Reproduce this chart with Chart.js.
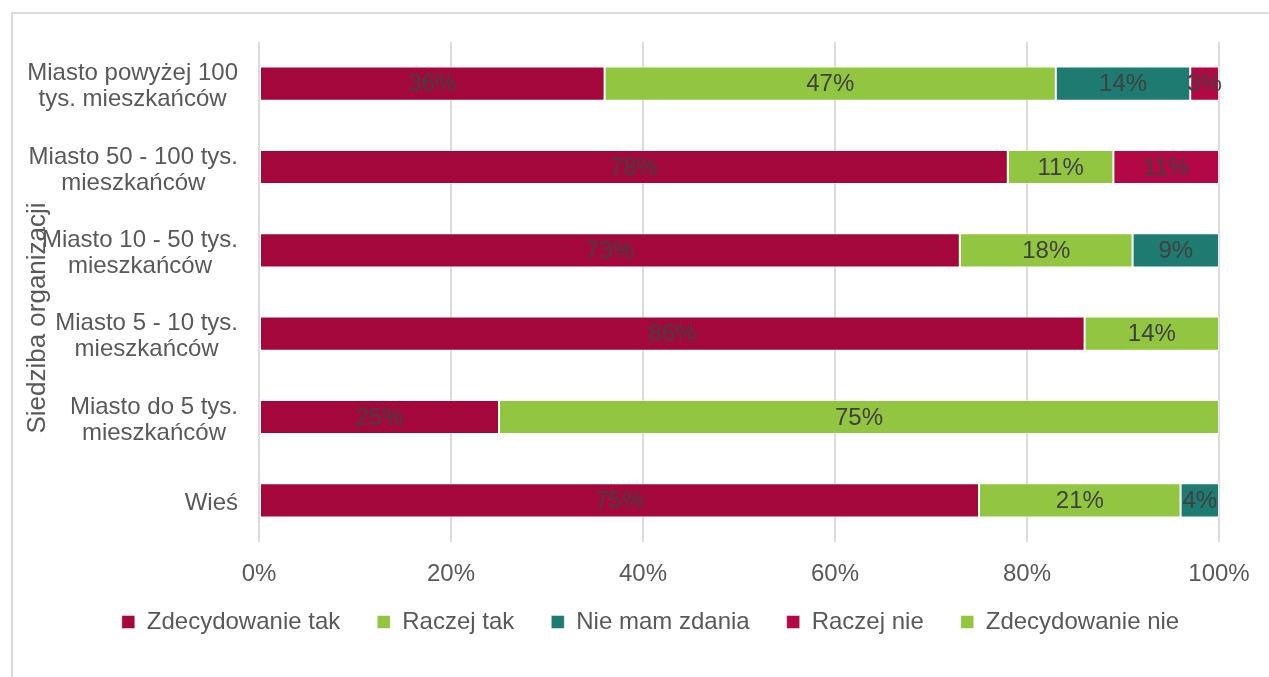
<!DOCTYPE html>
<html>
  <head>
    <title>Siedziba organizacji</title>
    <script src="https://cdn.jsdelivr.net/npm/chart.js@4/dist/chart.umd.min.js"></script>
    <style>
      body { margin: 0; background: #fff; overflow: hidden; }
      #wrap { position: relative; width: 1269px; height: 677px; }
      #frame { position: absolute; left: 11px; top: 12px; width: 1400px; height: 800px;
               border-left: 2px solid #d9d9d9; border-top: 2px solid #d9d9d9; }
      #myChart { position: absolute; left: 0; top: 0; }
    </style>
  </head>
  <body>
    <div id="wrap">
      <div id="frame"></div>
      <canvas id="myChart" width="1269" height="677"></canvas>
    </div>

    <script>
      const categories = [
        ["Miasto powyżej 100", "tys. mieszkańców"],
        ["Miasto 50 - 100 tys.", "mieszkańców"],
        ["Miasto 10 - 50 tys.", "mieszkańców"],
        ["Miasto 5 - 10 tys.", "mieszkańców"],
        ["Miasto do 5 tys.", "mieszkańców"],
        ["Wieś"]
      ]
      const seriesNames = ["Zdecydowanie tak", "Raczej tak", "Nie mam zdania", "Raczej nie", "Zdecydowanie nie"]
      const zdecydowanieTak = [36, 78, 73, 86, 25, 75]
      const raczejTak = [47, 11, 18, 14, 75, 21]
      const nieMamZdania = [14, 0, 9, 0, 0, 4]
      const raczejNie = [3, 11, 0, 0, 0, 0]
      const zdecydowanieNie = [0, 0, 0, 0, 0, 0]
      const xTicks = [0, 20, 40, 60, 80, 100]
      const axisTitle = "Siedziba organizacji"

      const colors = ["#a3073c", "#92c640", "#1d7b72", "#b40846", "#92c640"]
      const FONT = "'Liberation Sans', Arial, sans-serif"
      const GREY = "#595959"
      const LEGEND_PAD = 37

      const values = [zdecydowanieTak, raczejTak, nieMamZdania, raczejNie, zdecydowanieNie]

      // percentage text in the middle of every non-empty segment
      const barLabels = {
        id: "barLabels",
        afterDatasetsDraw(chart) {
          const ctx = chart.ctx
          ctx.save()
          ctx.font = "24px " + FONT
          ctx.fillStyle = "#404040"
          ctx.textAlign = "center"
          ctx.textBaseline = "middle"
          chart.data.datasets.forEach((ds, i) => {
            chart.getDatasetMeta(i).data.forEach((bar, j) => {
              if (!ds.data[j]) return
              const p = bar.getCenterPoint()
              ctx.fillText(ds.data[j] + "%", p.x, p.y + 1)
            })
          })
          ctx.restore()
        }
      }

      // category names: each block centred on itself, right edge next to the plot
      const categoryLabels = {
        id: "categoryLabels",
        afterDraw(chart) {
          const ctx = chart.ctx
          const yScale = chart.scales.y
          const right = chart.chartArea.left - 21
          const lineH = 26
          ctx.save()
          ctx.font = "24px " + FONT
          ctx.fillStyle = GREY
          ctx.textAlign = "center"
          ctx.textBaseline = "middle"
          categories.forEach((lines, i) => {
            const w = Math.max(...lines.map(l => ctx.measureText(l).width))
            const cx = right - w / 2
            const cy = yScale.getPixelForTick(i) + 3
            lines.forEach((l, k) => {
              ctx.fillText(l, cx, cy + (k - (lines.length - 1) / 2) * lineH)
            })
          })
          // axis title
          ctx.font = "26px " + FONT
          ctx.translate(38, 318)
          ctx.rotate(-Math.PI / 2)
          ctx.fillText(axisTitle, 0, 0)
          ctx.restore()
        }
      }

      // pull the legend row up closer to the axis
      const legendShift = {
        id: "legendShift",
        afterLayout(chart) {
          const lg = chart.legend
          const h = lg.bottom - lg.top
          lg.top = chart.chartArea.bottom + 80 - LEGEND_PAD - 12
          lg.bottom = lg.top + h
        }
      }

      new Chart("myChart", {
        type: "bar",
        data: {
          labels: categories,
          datasets: seriesNames.map((name, i) => ({
            label: name,
            data: values[i],
            backgroundColor: colors[i],
            borderColor: "rgba(255,255,255,0.45)",
            borderWidth: 1,
            borderSkipped: false,
            barPercentage: 0.41,
            categoryPercentage: 1
          }))
        },
        options: {
          indexAxis: "y",
          responsive: false,
          animation: false,
          layout: { padding: { top: 42, left: 82, right: 50, bottom: 14 } },
          scales: {
            x: {
              stacked: true,
              min: 0,
              max: 100,
              afterBuildTicks: axis => { axis.ticks = xTicks.map(v => ({ value: v })) },
              afterFit: axis => { axis.height = 50 },
              grid: { color: "#dcdcdc", lineWidth: 2, drawTicks: false, tickLength: 0 },
              border: { display: false },
              ticks: {
                padding: 18,
                color: GREY,
                font: { family: FONT, size: 24 },
                callback: v => v + "%"
              }
            },
            y: {
              stacked: true,
              afterFit: axis => { axis.width = 177 },
              grid: { display: false },
              border: { display: false },
              ticks: { display: false }
            }
          },
          plugins: {
            tooltip: { enabled: false },
            legend: {
              position: "bottom",
              labels: {
                boxWidth: 13,
                boxHeight: 13,
                padding: LEGEND_PAD,
                color: GREY,
                font: { family: FONT, size: 24 }
              }
            }
          }
        },
        plugins: [barLabels, categoryLabels, legendShift]
      })
    </script>
  </body>
</html>
